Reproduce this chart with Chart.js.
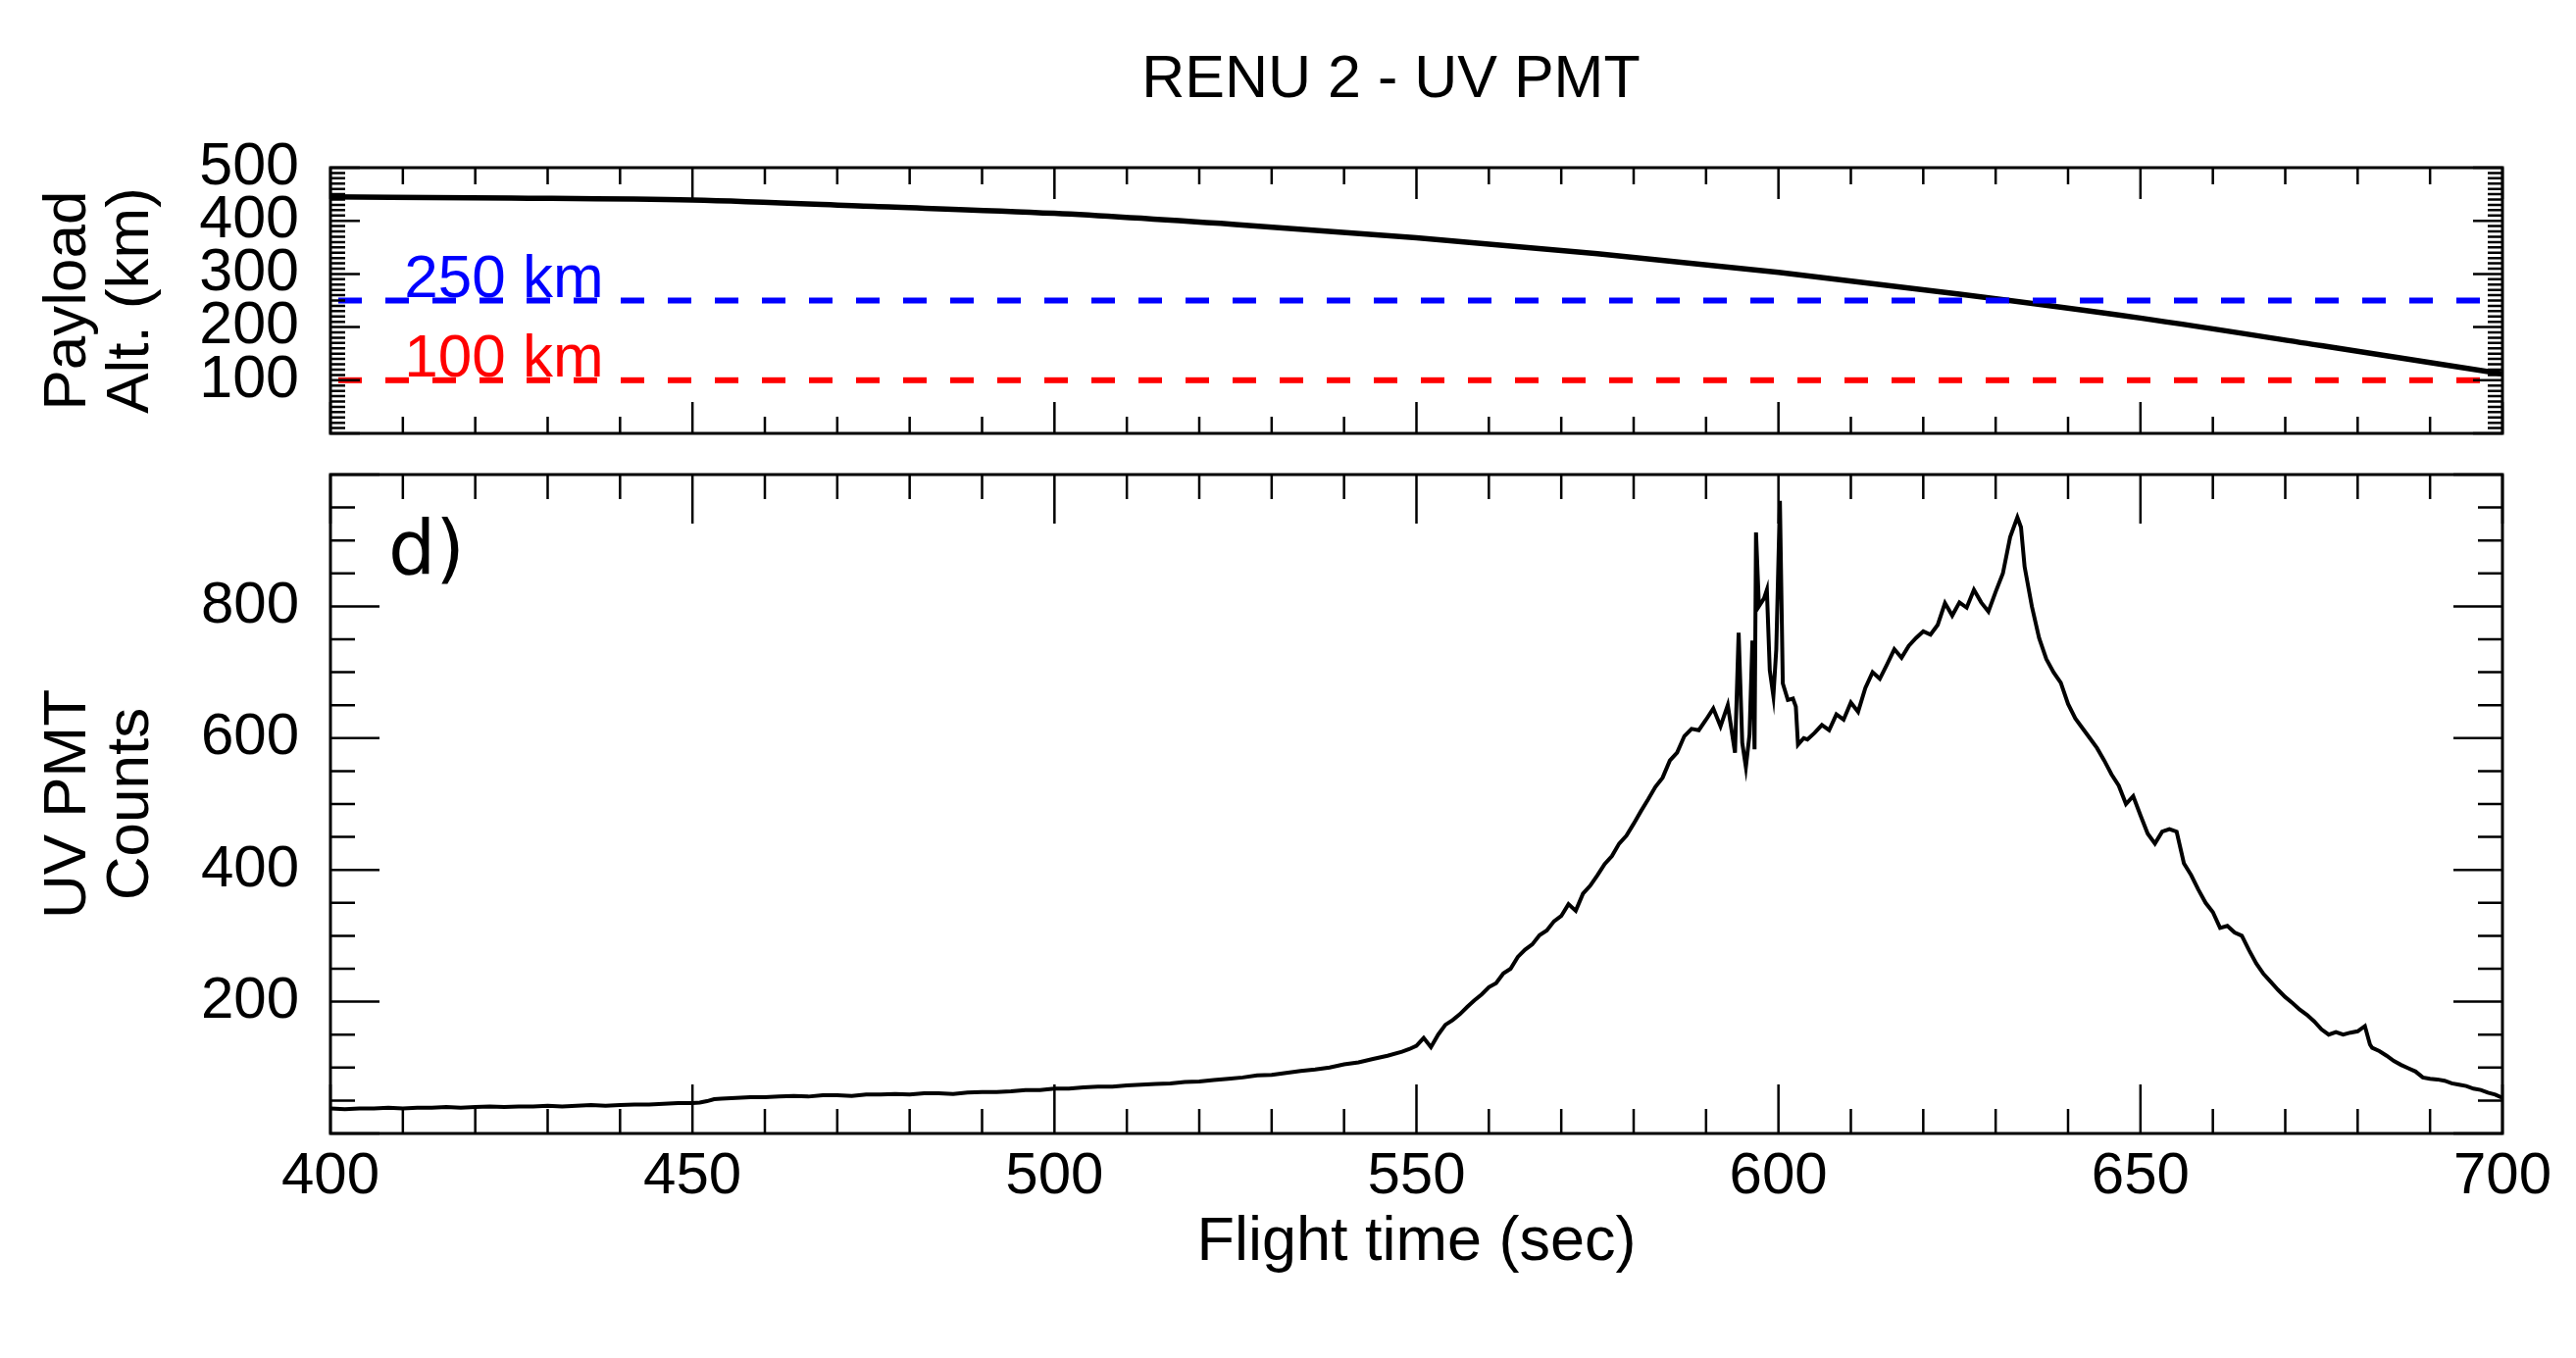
<!DOCTYPE html>
<html>
<head>
<meta charset="utf-8">
<title>RENU 2 - UV PMT</title>
<script src="https://cdn.jsdelivr.net/npm/chart.js@4.4.1/dist/chart.umd.min.js"></script>
<style>
  html, body { margin: 0; padding: 0; background: #fff; overflow: hidden; }
  #wrap { position: relative; width: 2627px; height: 1385px; }
  canvas { position: absolute; left: 0; }
  #altChart { top: 0; }
  #uvChart { top: 470px; }
</style>
</head>
<body>
<div id="wrap">
  <canvas id="altChart" width="2627" height="470"></canvas>
  <canvas id="uvChart" width="2627" height="915"></canvas>
</div>
<script>
const figTitle = 'RENU 2 - UV PMT';
const xTitle = 'Flight time (sec)';
const altTitle = ['Payload', 'Alt. (km)'];
const uvTitle = ['UV PMT', 'Counts'];
const panelTag = 'd)';

// payload altitude (km) vs flight time (s)
const altTime = [400, 425, 450, 475, 500, 525, 550, 575, 600, 625, 650, 675, 700];
const altKm = [445, 443, 439, 427, 414, 393, 368, 338, 303, 262, 217, 165, 112];

// reference altitudes
const refKm = [250, 100];
const refText = ['250 km', '100 km'];

// UV PMT counts vs flight time (s)
const uvTime = [
  400, 402, 404, 406, 408, 410, 412, 414, 416, 418,
  420, 422, 424, 426, 428, 430, 432, 434, 436, 438,
  440, 442, 444, 446, 448, 450, 451, 452, 453, 454,
  456, 458, 460, 462, 464, 466, 468, 470, 472, 474,
  476, 478, 480, 482, 484, 486, 488, 490, 492, 494,
  496, 498, 500, 502, 504, 506, 508, 510, 512, 514,
  516, 518, 520, 522, 524, 526, 528, 530, 532, 534,
  536, 538, 540, 542, 544, 546, 548,
  549, 550, 551, 552, 553, 554, 555, 556, 557, 558,
  559, 560, 561, 562, 563, 564, 565, 566, 567, 568,
  569, 570, 571, 572, 573, 574, 575, 576, 577, 578,
  579, 580, 581, 582, 583, 584, 585, 586, 587, 588,
  589, 590, 591, 592, 593, 594, 594.5, 595, 595.5, 596,
  596.4, 596.7, 596.9, 597.3, 598, 598.4, 598.8, 599.3, 599.7, 600.2,
  600.6, 601.3, 602, 602.4, 602.7, 603.5, 604, 605, 606, 607,
  608, 609, 610, 611, 612, 613, 614, 615, 616, 617,
  618, 619, 620, 621, 622, 623, 624, 625, 626, 627,
  628, 629, 630, 631, 632, 633, 633.5, 634, 635, 636,
  637, 638, 639, 640, 641, 642, 643, 644, 645, 646,
  647, 648, 649, 650, 651, 652, 653, 654, 655, 656,
  657, 658, 659, 660, 661, 662, 663, 664, 665, 666,
  667, 668, 669, 670, 671, 672, 673, 674, 675, 676,
  677, 678, 679, 680, 681, 681.7, 682, 683, 684, 685,
  686, 687, 688, 689, 690, 691, 692, 693, 694, 695,
  696, 697, 698, 699, 700
];
const uvCounts = [
  38, 37, 38, 38, 39, 38, 39, 39, 40, 39,
  40, 41, 40, 41, 41, 42, 41, 42, 43, 42,
  43, 44, 44, 45, 46, 46, 47, 49, 52, 53,
  54, 55, 55, 56, 57, 56, 58, 58, 57, 59,
  59, 60, 59, 61, 61, 60, 62, 63, 63, 64,
  66, 66, 68, 68, 70, 71, 71, 73, 74, 75,
  76, 78, 79, 81, 83, 85, 88, 89, 92, 95,
  97, 100, 105, 108, 113, 118, 124,
  128, 133, 145, 131, 150, 165, 172, 181, 192, 202,
  211, 222, 228, 243, 250, 268, 279, 287, 301, 308,
  322, 330, 348, 338, 364, 376, 392, 409, 421, 440,
  452, 470, 489, 507, 526, 540, 566, 578, 603, 614,
  612, 628, 645, 618, 650, 578, 760, 593, 556, 605,
  748, 583, 912, 800, 812, 825, 703, 664, 735, 960,
  683, 658, 660, 648, 590, 600, 598, 608, 620, 612,
  636, 628, 654, 640, 676, 700, 690, 712, 735, 722,
  740, 752, 762, 757, 772, 805, 786, 806, 798, 825,
  806, 792, 822, 850, 905, 935, 920, 860, 800, 752,
  720, 700, 684, 652, 630, 615, 600, 585, 566, 545,
  528, 500, 512, 483, 455, 440, 458, 462, 458, 410,
  392, 370, 350, 336, 312, 315, 305, 300, 278, 258,
  242, 230, 218, 207, 198, 188, 180, 170, 158, 150,
  154, 150, 153, 155, 163, 135, 130, 125, 118, 110,
  104, 99, 94, 85, 83, 82, 80, 76, 74, 72,
  68, 66, 62, 59, 54
];

const SANS = '"Liberation Sans", Arial, Helvetica, sans-serif';
Chart.defaults.font.family = SANS;
Chart.defaults.color = '#000';

const toXY = (xs, ys) => xs.map((x, i) => ({x: x, y: ys[i]}));

// IDL style box: frame plus inward ticks on all four sides
function boxPlugin(t) {
    return {
        id: 'box',
        afterDatasetsDraw(chart) {
            const {ctx, chartArea: a, scales: {x, y}} = chart;
            ctx.save();
            ctx.strokeStyle = '#000';
            ctx.lineWidth = 2.5;
            ctx.beginPath();
            x.ticks.forEach(tk => {
                const px = x.getPixelForValue(tk.value);
                const len = tk.value % t.xMajor === 0 ? t.xMajorLen : t.xMinorLen;
                ctx.moveTo(px, a.bottom); ctx.lineTo(px, a.bottom - len);
                ctx.moveTo(px, a.top); ctx.lineTo(px, a.top + len);
            });
            y.ticks.forEach(tk => {
                const py = y.getPixelForValue(tk.value);
                const len = tk.value % t.yMajor === 0 ? t.yMajorLen : t.yMinorLen;
                ctx.moveTo(a.left, py); ctx.lineTo(a.left + len, py);
                ctx.moveTo(a.right, py); ctx.lineTo(a.right - len, py);
            });
            ctx.stroke();
            ctx.lineWidth = 3;
            ctx.strokeRect(a.left, a.top, a.right - a.left, a.bottom - a.top);
            ctx.restore();
        }
    };
}

const altLabels = {
    id: 'altLabels',
    afterDatasetsDraw(chart) {
        const {ctx, chartArea: a, scales: {x, y}} = chart;
        ctx.save();
        ctx.font = '62px ' + SANS;
        ctx.textBaseline = 'alphabetic';
        ctx.textAlign = 'left';
        refKm.forEach((km, i) => {
            ctx.fillStyle = i === 0 ? '#0000ff' : '#ff0000';
            ctx.fillText(refText[i], x.getPixelForValue(410.2), y.getPixelForValue(km) - 4);
        });
        ctx.fillStyle = '#000';
        ctx.font = '61px ' + SANS;
        ctx.textAlign = 'center';
        ctx.textBaseline = 'middle';
        ctx.fillText(figTitle, (a.left + a.right) / 2 - 26, 82);
        ctx.restore();
    }
};

const uvLabels = {
    id: 'uvLabels',
    afterDatasetsDraw(chart) {
        const {ctx, scales: {x, y}} = chart;
        ctx.save();
        ctx.font = '76px "DejaVu Sans", sans-serif';
        ctx.fillStyle = '#000';
        ctx.textBaseline = 'alphabetic';
        ctx.fillText(panelTag, x.getPixelForValue(408), y.getPixelForValue(850));
        ctx.restore();
    }
};

const yTitle = (text) => ({
    display: true,
    text: text,
    font: {size: 62, lineHeight: 1.03},
    padding: {top: 38, bottom: 0}
});

new Chart(document.getElementById('altChart'), {
    type: 'line',
    data: {
        datasets: [{
                data: toXY([400, 700], [refKm[0], refKm[0]]),
                borderColor: '#0000ff',
                borderWidth: 6,
                borderDash: [24, 24],
                borderDashOffset: 40,
                pointRadius: 0
            },
            {
                data: toXY([400, 700], [refKm[1], refKm[1]]),
                borderColor: '#ff0000',
                borderWidth: 6,
                borderDash: [24, 24],
                borderDashOffset: 40,
                pointRadius: 0
            },
            {
                data: toXY(altTime, altKm),
                borderColor: '#000',
                borderWidth: 5.5,
                pointRadius: 0,
                cubicInterpolationMode: 'monotone'
            }
        ]
    },
    options: {
        responsive: false,
        animation: false,
        devicePixelRatio: 1,
        layout: {padding: {top: 171, right: 75, bottom: 28, left: 0}},
        plugins: {legend: {display: false}, tooltip: {enabled: false}},
        scales: {
            x: {
                type: 'linear', min: 400, max: 700,
                grid: {display: false}, border: {display: false},
                ticks: {display: false, stepSize: 10},
                afterFit: (s) => { s.height = 0; s.paddingLeft = 0; s.paddingRight = 0; }
            },
            y: {
                min: 0, max: 500,
                grid: {display: false, drawTicks: false}, border: {display: false},
                ticks: {
                    stepSize: 10, autoSkip: false, padding: 32,
                    font: {size: 61},
                    callback: (v) => (v % 100 === 0 && v > 0) ? String(v) : ''
                },
                title: yTitle(altTitle),
                afterFit: (s) => { s.width = 337; s.paddingTop = 0; s.paddingBottom = 0; }
            }
        }
    },
    plugins: [boxPlugin({xMajor: 50, xMajorLen: 32, xMinorLen: 17, yMajor: 100, yMajorLen: 30, yMinorLen: 15}), altLabels]
});

new Chart(document.getElementById('uvChart'), {
    type: 'line',
    data: {
        datasets: [{
            data: toXY(uvTime, uvCounts),
            borderColor: '#000',
            borderWidth: 4,
            pointRadius: 0
        }]
    },
    options: {
        responsive: false,
        animation: false,
        devicePixelRatio: 1,
        layout: {padding: {top: 14, right: 75, bottom: 0, left: 0}},
        plugins: {legend: {display: false}, tooltip: {enabled: false}},
        scales: {
            x: {
                type: 'linear', min: 400, max: 700,
                grid: {display: false, drawTicks: false}, border: {display: false},
                ticks: {
                    stepSize: 10, autoSkip: false, maxRotation: 0, padding: 8,
                    font: {size: 60},
                    callback: (v) => v % 50 === 0 ? String(v) : ''
                },
                title: {display: true, text: xTitle, font: {size: 63}, padding: {top: 0, bottom: 80}},
                afterFit: (s) => { s.height = 229; s.paddingLeft = 0; s.paddingRight = 0; }
            },
            y: {
                min: 0, max: 1000,
                grid: {display: false, drawTicks: false}, border: {display: false},
                ticks: {
                    stepSize: 50, autoSkip: false, padding: 32,
                    font: {size: 60},
                    callback: (v) => (v % 200 === 0 && v > 0 && v < 1000) ? String(v) : ''
                },
                title: yTitle(uvTitle),
                afterFit: (s) => { s.width = 337; s.paddingTop = 0; s.paddingBottom = 0; }
            }
        }
    },
    plugins: [boxPlugin({xMajor: 50, xMajorLen: 50, xMinorLen: 25, yMajor: 200, yMajorLen: 50, yMinorLen: 25}), uvLabels]
});
</script>
</body>
</html>
